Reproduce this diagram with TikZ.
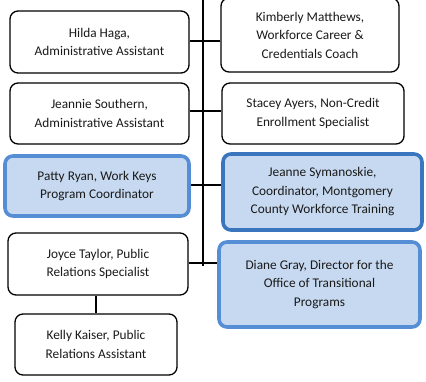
\documentclass[tikz,border=0pt]{standalone}
\usepackage{fontspec}
\setmainfont{Carlito}
\usetikzlibrary{positioning}
\definecolor{boxblue}{HTML}{C6D9F0}
\definecolor{edgeblue}{HTML}{558ED5}
\definecolor{edgedark}{HTML}{3A76BE}
\definecolor{txtgray}{HTML}{1A1A1A}
\tikzset{
  staff box/.style={
    draw=black,
    line width=1.3pt,
    rounded corners=8pt,
    fill=white,
    align=center,
    inner sep=2pt,
    text=txtgray,
    font=\fontsize{13.3}{18.5}\selectfont
  },
  lead box/.style={
    staff box,
    draw=edgeblue,
    fill=boxblue,
    line width=3.6pt
  },
  link/.style={
    draw=black,
    line width=1.3pt
  }
}
\begin{document}
\begin{tikzpicture}[x=1pt, y=-1pt]
    \useasboundingbox (0,0) rectangle (426,381);

    % left column
    \node[staff box, minimum width=179pt, minimum height=62pt] (hilda) at (99.5,42)
      {Hilda Haga,\\Administrative Assistant};
    \node[staff box, minimum width=179pt, minimum height=61pt] (southern) at (99.5,113.5)
      {Jeannie Southern,\\Administrative Assistant};
    \node[lead box, minimum width=184pt, minimum height=60pt] (patty) at (97,186)
      {Patty Ryan, Work Keys\\Program Coordinator};
    \node[staff box, minimum width=180pt, minimum height=62pt] (joyce) at (98,264)
      {Joyce Taylor, Public\\Relations Specialist};
    \node[staff box, minimum width=162pt, minimum height=61pt] (kelly) at (96,344.5)
      {Kelly Kaiser, Public\\Relations Assistant};

    % right column
    \node[staff box, minimum width=178pt, minimum height=74pt] (kimberly) at (310,35)
      {Kimberly Matthews,\\Workforce Career \&\\Credentials Coach};
    \node[staff box, minimum width=182pt, minimum height=61pt] (stacey) at (313,113.5)
      {Stacey Ayers, Non-Credit\\Enrollment Specialist};
    \node[lead box, draw=edgedark, minimum width=199pt, minimum height=76pt] (symanoskie) at (322.5,192)
      {Jeanne Symanoskie,\\Coordinator, Montgomery\\County Workforce Training};
    \node[lead box, minimum width=201pt, minimum height=85pt] (diane) at (319.5,284.5)
      {Diane Gray, Director for the\\Office of Transitional\\Programs};

    % spine and its joints
    \coordinate (spine top) at (203,-2);
    \coordinate (spine end) at (203,266);
    \coordinate (j1) at (203,41);
    \coordinate (j2) at (203,111);
    \coordinate (j3) at (203,185);
    \coordinate (j4) at (203,263);

    \draw[link] (spine top) -- (spine end);
    \draw[link] (hilda.east |- j1) -- (kimberly.west |- j1);
    \draw[link] (southern.east |- j2) -- (stacey.west |- j2);
    \draw[link] (patty.east |- j3) -- (symanoskie.west |- j3);
    \draw[link] (joyce.east |- j4) -- (diane.west |- j4);
    \draw[link] (joyce.south -| kelly.north) -- (kelly.north);

  \end{tikzpicture}
\end{document}
